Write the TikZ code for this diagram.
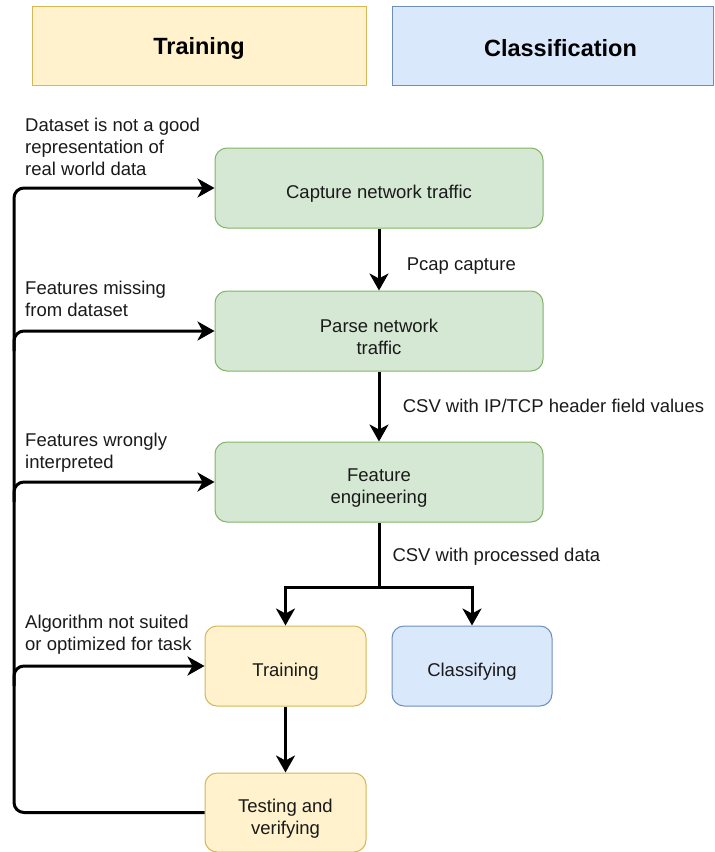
\documentclass[tikz,border=0pt]{standalone}
\usepackage{fontspec}
\setmainfont{Liberation Sans}
\usetikzlibrary{arrows.meta}

\definecolor{greenfill}{HTML}{D5E8D4}
\definecolor{greenline}{HTML}{82B366}
\definecolor{yellowfill}{HTML}{FFF2CC}
\definecolor{yellowline}{HTML}{D6B656}
\definecolor{bluefill}{HTML}{DAE8FC}
\definecolor{blueline}{HTML}{6C8EBF}
\definecolor{ink}{HTML}{1A1A1A}

% pushes the first line of a box label down a little
\newcommand{\topgap}{\rule{0pt}{25pt}}

\tikzset{
  txt/.style={font=\fontsize{18.5}{22}\selectfont, text=ink},
  header/.style={draw, line width=1pt, minimum width=#1, minimum height=79pt,
    font=\fontsize{23.5}{28}\selectfont\bfseries,
    execute at begin node={\rule{0pt}{23pt}}},
  stage/.style={txt, draw=greenline, fill=greenfill, line width=1pt,
    rounded corners=12pt, minimum width=328pt, minimum height=80pt, align=center},
  trainbox/.style={stage, draw=yellowline, fill=yellowfill, minimum width=161pt},
  classbox/.style={stage, draw=blueline, fill=bluefill, minimum width=160pt},
  note/.style={txt, inner sep=0pt, align=left},
  flow/.style={line width=3pt, -{Stealth[length=17pt,width=19pt,inset=5pt]}},
  fb/.style={flow, rounded corners=10pt},
}

\begin{document}
\begin{tikzpicture}[x=1pt,y=-1pt]
  \useasboundingbox (0,0) rectangle (715,852);

  % legend
  \node[header=334pt, draw=yellowline, fill=yellowfill] (legtrain) at (199,45.5) {Training};
  \node[header=321pt, draw=blueline, fill=bluefill] (legclass) at (552.5,45.5) {\hspace*{16pt}Classification};

  % pipeline
  \node[stage] (capture) at (379,188) {\topgap Capture network traffic};
  \node[stage] (parse) at (379,331) {\topgap Parse network\\traffic};
  \node[stage] (feature) at (379,482) {\topgap Feature\\engineering};
  \node[trainbox] (train) at (285.5,666) {\topgap Training};
  \node[classbox] (classify) at (472,666) {\topgap Classifying};
  \node[trainbox, minimum height=79pt] (test) at (285.5,812.5) {\topgap Testing and\\verifying};

  \coordinate (split) at (379,587);
  \coordinate (rail) at (14,0);

  \draw[flow] (capture) -- (parse)
    node[txt, anchor=west, pos=0.55, xshift=23pt, yshift=-3pt] (pcap) {Pcap capture};
  \draw[flow] (parse) -- (feature)
    node[txt, anchor=west, pos=0.45, xshift=19pt, yshift=-3pt] (csvhdr) {CSV with IP/TCP header field values};
  \draw[line width=3pt] (feature) -- (split);
  \node[txt, anchor=west] (csvproc) at (389,557) {CSV with processed data};
  \draw[flow] (split) -| (train);
  \draw[flow] (split) -| (classify);
  \draw[flow] (train) -- (test);

  % feedback loops
  \begin{scope}[fb]
    \draw (test.west) -- (test.west -| rail) |- (capture.west);
    \draw ([yshift=-20pt]rail |- parse.west) -- (rail |- parse.west) -- (parse.west);
    \draw ([yshift=-20pt]rail |- feature.west) -- (rail |- feature.west) -- (feature.west);
    \draw ([yshift=-20pt]rail |- train.west) -- (rail |- train.west) -- (train.west);
  \end{scope}

  \node[note, anchor=north west] (whydata) at (25,118) {Dataset is not a good\\representation of\\real world data};
  \node[note, anchor=north west] (whymiss) at (25,281) {Features missing\\from dataset};
  \node[note, anchor=north west] (whywrong) at (25,433) {Features wrongly\\interpreted};
  \node[note, anchor=north west] (whyalgo) at (25,615) {Algorithm not suited\\or optimized for task};
\end{tikzpicture}
\end{document}
